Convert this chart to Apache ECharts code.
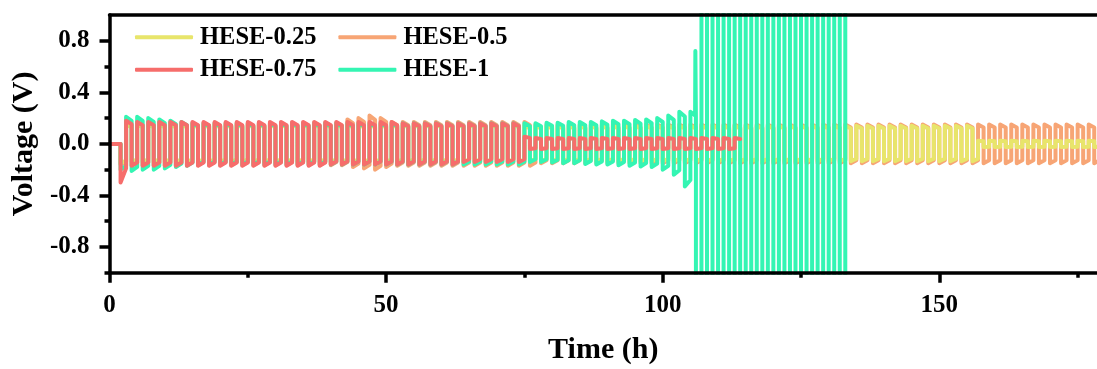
<!DOCTYPE html>
<html>
<head>
<meta charset="utf-8">
<script src="https://cdn.jsdelivr.net/npm/echarts@6/dist/echarts.min.js"></script>
<style>
  html, body { margin: 0; padding: 0; background: #fff; }
  #chart { width: 1097px; height: 369px; }
</style>
</head>
<body>
<div id="chart"></div>
<script>
// ---------------- DATA ----------------
const seriesNames = ['HESE-0.25', 'HESE-0.5', 'HESE-0.75', 'HESE-1'];
const xTickLabels = [0, 50, 100, 150];
const xMinorTicks = [25, 75, 125, 175];
const yTickLabels = [-0.8, -0.4, 0.0, 0.4, 0.8];
const yMinorTicks = [-1.0, -0.6, -0.2, 0.2, 0.6];
const timeRange = [0, 178.5];     // h
const voltRange = [-1, 1];        // V

// experiment timing: rest until 2 h, then 1 h half-cycles (first one negative)
const restEnd = 2;
const halfCycle = 1;
const sagRatio = 0.85;            // plateau / peak within a half-cycle

// first (negative) half-cycle [peak, end] per series
const firstHalf025 = [-0.15, -0.13];
const firstHalf05  = [-0.16, -0.14];
const firstHalf075 = [-0.30, -0.19];
const firstHalf1   = [-0.20, -0.17];

// per-cycle positive / negative peak voltages (cycle k starts at 3 + 2k h)
const hese075Hi = [
  0.18,0.17,0.17,0.17,0.17,0.17,0.17,0.17,0.17,0.17,
  0.17,0.17,0.17,0.17,0.17,0.17,0.17,0.17,0.17,0.17,
  0.17,0.17,0.17,0.17,0.17,0.16,0.16,0.16,0.16,0.16,
  0.16,0.16,0.16,0.16,0.16,0.16,
  0.055,0.045,0.045,0.045,0.045,0.045,0.045,0.045,0.045,0.045,
  0.045,0.045,0.045,0.045,0.045,0.045,0.045,0.045,0.045,0.045
];
const hese075Lo = [
  -0.17,-0.17,-0.17,-0.17,-0.17,-0.17,-0.17,-0.17,-0.17,-0.17,
  -0.17,-0.17,-0.17,-0.17,-0.17,-0.17,-0.17,-0.17,-0.16,-0.16,
  -0.16,-0.16,-0.16,-0.16,-0.16,-0.16,-0.16,-0.16,-0.16,-0.16,
  -0.14,-0.14,-0.14,-0.14,-0.14,-0.14,
  -0.04,-0.04,-0.04,-0.04,-0.04,-0.04,-0.04,-0.04,-0.04,-0.04,
  -0.04,-0.04,-0.04,-0.04,-0.04,-0.04,-0.04,-0.04,-0.04
];
const hese1Hi = [
  0.21,0.21,0.20,0.19,0.18,0.17,0.16,0.16,0.16,0.16,
  0.16,0.16,0.16,0.16,0.16,0.16,0.16,0.16,0.16,0.16,
  0.16,0.16,0.16,0.16,0.16,0.16,0.16,0.16,0.16,0.16,
  0.16,0.16,0.16,0.16,0.16,0.16,
  0.16,0.16,0.165,0.165,0.17,0.17,0.17,0.175,0.18,0.18,
  0.185,0.19,0.20,0.22,0.25,0.25,
  1.25,1.25,1.25,1.25,1.25,1.25,1.25,1.25,1.25,1.25,1.25,1.25,1.25,1.25
];
const hese1Lo = [
  -0.21,-0.20,-0.20,-0.19,-0.18,-0.17,-0.16,-0.16,-0.16,-0.16,
  -0.16,-0.16,-0.16,-0.16,-0.16,-0.16,-0.16,-0.16,-0.16,-0.16,
  -0.16,-0.16,-0.16,-0.16,-0.16,-0.16,-0.16,-0.16,-0.16,-0.16,
  -0.16,-0.16,-0.16,-0.16,-0.16,-0.16,
  -0.14,-0.14,-0.145,-0.15,-0.15,-0.155,-0.16,-0.16,-0.165,-0.17,
  -0.175,-0.18,-0.20,-0.24,-0.33,-1.25,
  -1.25,-1.25,-1.25,-1.25,-1.25,-1.25,-1.25,-1.25,-1.25,-1.25,-1.25,-1.25,-1.25
];
const hese1Spike = [[105.85, 0.22], [105.9, 0.72]];
const hese05Hi = [
  0.17,0.17,0.17,0.17,0.17,0.165,0.165,0.165,0.165,0.165,
  0.165,0.165,0.165,0.165,0.165,0.165,0.165,0.165,0.165,0.165,
  0.19,0.20,0.22,0.20,0.17,0.17,0.17,0.17,0.17,0.17,
  0.17,0.17,0.17,0.17,0.17,0.17,0.17,0.15,0.15,0.15,
  0.15,0.15,0.15,0.15,0.15,0.15,0.15,0.15,0.15,0.15,
  0.15,0.15,0.15,0.15,0.15,0.15,0.15,0.15,0.15,0.15,
  0.15,0.15,0.15,0.15,0.15,0.15,0.15,0.15,0.15,0.15,
  0.15,0.15,0.15,0.15,0.15,0.15,0.15,0.15,0.15,0.15,
  0.15,0.15,0.15,0.15,0.15,0.15,0.15,0.15
];
const hese05Lo = [
  -0.17,-0.17,-0.17,-0.17,-0.17,-0.165,-0.165,-0.165,-0.165,-0.165,
  -0.165,-0.165,-0.165,-0.165,-0.165,-0.165,-0.165,-0.165,-0.165,-0.165,
  -0.18,-0.19,-0.20,-0.18,-0.17,-0.17,-0.17,-0.17,-0.17,-0.17,
  -0.17,-0.17,-0.17,-0.17,-0.17,-0.17,-0.17,-0.15,-0.15,-0.15,
  -0.15,-0.15,-0.15,-0.15,-0.15,-0.15,-0.15,-0.15,-0.15,-0.15,
  -0.15,-0.15,-0.15,-0.15,-0.15,-0.15,-0.15,-0.15,-0.15,-0.15,
  -0.15,-0.15,-0.15,-0.15,-0.15,-0.15,-0.15,-0.15,-0.15,-0.15,
  -0.15,-0.15,-0.15,-0.15,-0.15,-0.15,-0.15,-0.15,-0.15,-0.15,
  -0.15,-0.15,-0.15,-0.15,-0.15,-0.15,-0.15,-0.15
];
const hese025Hi = [
  0.15,0.15,0.15,0.15,0.15,0.15,0.15,0.15,0.15,0.15,
  0.15,0.15,0.15,0.15,0.15,0.15,0.15,0.15,0.15,0.15,
  0.15,0.15,0.15,0.15,0.15,0.15,0.15,0.15,0.15,0.15,
  0.15,0.15,0.15,0.15,0.15,0.15,0.14,0.14,0.14,0.14,
  0.14,0.14,0.14,0.14,0.14,0.14,0.14,0.14,0.14,0.14,
  0.14,0.14,0.14,0.14,0.14,0.14,0.14,0.14,0.14,0.14,
  0.14,0.14,0.14,0.14,0.14,0.14,0.14,0.14,0.14,0.14,
  0.14,0.14,0.14,0.14,0.14,0.14,0.14,0.025,0.025,0.025,
  0.025,0.025,0.025,0.025,0.025,0.025,0.025,0.025
];
const hese025Lo = [
  -0.14,-0.14,-0.14,-0.14,-0.14,-0.14,-0.14,-0.14,-0.14,-0.14,
  -0.14,-0.14,-0.14,-0.14,-0.14,-0.14,-0.14,-0.14,-0.14,-0.14,
  -0.14,-0.14,-0.14,-0.14,-0.14,-0.14,-0.14,-0.14,-0.14,-0.14,
  -0.14,-0.14,-0.14,-0.14,-0.14,-0.14,-0.135,-0.135,-0.135,-0.135,
  -0.135,-0.135,-0.135,-0.135,-0.135,-0.135,-0.135,-0.135,-0.135,-0.135,
  -0.135,-0.135,-0.135,-0.135,-0.135,-0.135,-0.135,-0.135,-0.135,-0.135,
  -0.135,-0.135,-0.135,-0.135,-0.135,-0.135,-0.135,-0.135,-0.135,-0.135,
  -0.135,-0.135,-0.135,-0.135,-0.135,-0.135,-0.135,-0.025,-0.025,-0.025,
  -0.025,-0.025,-0.025,-0.025,-0.025,-0.025,-0.025,-0.025
];

// ---------------- BUILD ----------------
function buildWave(first, hi, lo, extra) {
  const pts = [[0, 0], [restEnd, 0], [restEnd, first[0]], [restEnd + halfCycle, first[1]]];
  for (let k = 0; k < hi.length; k++) {
    const t0 = restEnd + halfCycle + 2 * halfCycle * k;
    pts.push([t0, hi[k]], [t0 + halfCycle, hi[k] * sagRatio]);
    if (k < lo.length) {
      pts.push([t0 + halfCycle, lo[k]], [t0 + 2 * halfCycle, lo[k] * sagRatio]);
    }
  }
  if (extra) {
    return pts.concat(extra).sort((a, b) => a[0] - b[0]);
  }
  return pts;
}

const colors = {
  'HESE-0.25': '#E8E56B',
  'HESE-0.5': '#F7A575',
  'HESE-0.75': '#F66D6B',
  'HESE-1': '#34F5B3'
};
const dataMap = {
  'HESE-0.25': buildWave(firstHalf025, hese025Hi, hese025Lo),
  'HESE-0.5': buildWave(firstHalf05, hese05Hi, hese05Lo),
  'HESE-0.75': buildWave(firstHalf075, hese075Hi, hese075Lo),
  'HESE-1': buildWave(firstHalf1, hese1Hi, hese1Lo, hese1Spike)
};
// drawing order (bottom -> top)
const drawOrder = ['HESE-0.5', 'HESE-0.25', 'HESE-1', 'HESE-0.75'];

const FONT = '"Liberation Serif", "Times New Roman", serif';
const tickText = { fontFamily: FONT, fontWeight: 'bold', fontSize: 25, color: '#000' };
const axisLineStyle = { color: '#000', width: 3.5 };

const chart = echarts.init(document.getElementById('chart'), null, { renderer: 'canvas' });

const legendCommon = {
  left: 135,
  orient: 'horizontal',
  icon: 'roundRect',
  itemWidth: 58,
  itemHeight: 4,
  itemGap: 22,
  padding: 0,
  selectedMode: false,
  textStyle: { fontFamily: FONT, fontWeight: 'bold', fontSize: 24.5, color: '#000', lineHeight: 24, padding: [0, 0, 0, 2] }
};

chart.setOption({
  animation: false,
  backgroundColor: '#fff',
  grid: { left: 109.5, right: 0, top: 15, bottom: 96.2, containLabel: false, outerBoundsMode: 'none' },
  legend: [
    Object.assign({}, legendCommon, { top: 24.7, data: [seriesNames[0], seriesNames[1]] }),
    Object.assign({}, legendCommon, { top: 57.3, data: [seriesNames[2], seriesNames[3]] })
  ],
  xAxis: [
    {
      type: 'value', position: 'bottom', min: timeRange[0], max: timeRange[1], z: 10,
      axisLine: { show: true, onZero: false, lineStyle: axisLineStyle },
      axisTick: { show: true, customValues: xTickLabels, length: 10, lineStyle: axisLineStyle },
      axisLabel: Object.assign({ customValues: xTickLabels, margin: 20 }, tickText),
      splitLine: { show: false },
      name: 'Time (h)', nameLocation: 'middle', nameGap: 62,
      nameTextStyle: { fontFamily: FONT, fontWeight: 'bold', fontSize: 30, color: '#000' }
    },
    {
      type: 'value', position: 'bottom', min: timeRange[0], max: timeRange[1], z: 10,
      axisLine: { show: false, onZero: false },
      axisTick: { show: true, customValues: xMinorTicks, length: 5, lineStyle: axisLineStyle },
      axisLabel: { show: false },
      splitLine: { show: false }
    },
    {
      type: 'value', position: 'top', min: timeRange[0], max: timeRange[1], z: 10,
      axisLine: { show: true, onZero: false, lineStyle: axisLineStyle },
      axisTick: { show: false },
      axisLabel: { show: false },
      splitLine: { show: false }
    }
  ],
  yAxis: [
    {
      type: 'value', position: 'left', min: voltRange[0], max: voltRange[1], z: 10,
      axisLine: { show: true, onZero: false, lineStyle: axisLineStyle },
      axisTick: { show: true, customValues: yTickLabels, length: 10, lineStyle: axisLineStyle },
      axisLabel: Object.assign({ customValues: yTickLabels, margin: 20, formatter: v => Number(v).toFixed(1) }, tickText),
      splitLine: { show: false },
      name: 'Voltage (V)', nameLocation: 'middle', nameGap: 58, nameRotate: 90,
      nameTextStyle: { fontFamily: FONT, fontWeight: 'bold', fontSize: 30, color: '#000' }
    },
    {
      type: 'value', position: 'left', min: voltRange[0], max: voltRange[1], z: 10,
      axisLine: { show: false, onZero: false },
      axisTick: { show: true, customValues: yMinorTicks, length: 5, lineStyle: axisLineStyle },
      axisLabel: { show: false },
      splitLine: { show: false }
    }
  ],
  series: drawOrder.map(name => ({
    name: name,
    type: 'line',
    xAxisIndex: 0,
    yAxisIndex: 0,
    data: dataMap[name],
    showSymbol: false,
    symbol: 'none',
    clip: true,
    color: colors[name],
    itemStyle: { color: colors[name] },
    lineStyle: { color: colors[name], width: 4, cap: 'round', join: 'round' },
    emphasis: { disabled: true }
  }))
});
</script>
</body>
</html>
